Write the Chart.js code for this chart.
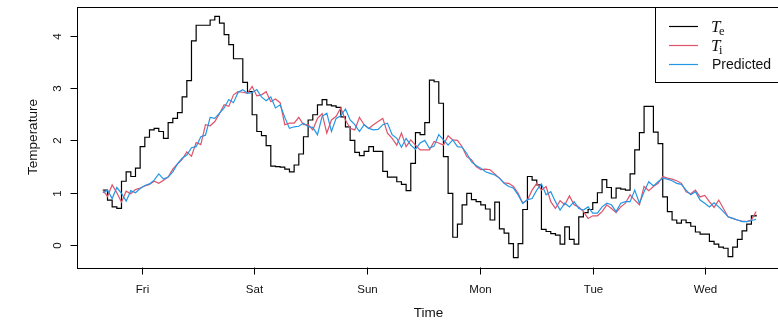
<!DOCTYPE html>
<html>
<head>
<meta charset="utf-8">
<style>
  html, body { margin: 0; padding: 0; background: #ffffff; overflow: hidden; }
  #wrap { width: 790px; height: 323px; }
</style>
<script src="https://cdn.jsdelivr.net/npm/chart.js@4.4.0/dist/chart.umd.min.js"></script>
</head>
<body>
<div id="wrap"><canvas id="chart" width="790" height="323"></canvas></div>
<script>
// Hourly samples, index 0 = Thursday afternoon.
const teValues = [
  1.05, 0.86, 0.73, 0.70, 1.22, 1.40, 1.31, 1.47, 1.88, 2.06,
  2.20, 2.23, 2.17, 2.04, 2.34, 2.42, 2.53, 2.83, 3.14, 3.90,
  4.20, 4.20, 4.20, 4.30, 4.37, 4.24, 4.02, 3.83, 3.56, 3.56,
  3.11, 2.93, 2.49, 2.17, 2.09, 1.90, 1.51, 1.50, 1.49, 1.45,
  1.40, 1.53, 1.74, 2.07, 2.39, 2.49, 2.68, 2.78, 2.68, 2.66,
  2.63, 2.45, 2.26, 2.00, 1.77, 1.71, 1.79, 1.88, 1.79, 1.79,
  1.41, 1.30, 1.30, 1.21, 1.16, 1.04, 1.56, 2.15, 2.11, 2.34,
  3.15, 3.12, 2.71, 1.69, 0.99, 0.15, 0.40, 0.77, 0.99, 0.87,
  0.83, 0.77, 0.69, 0.48, 0.82, 0.31, 0.23, 0.03, -0.24, 0.03,
  0.68, 1.31, 1.24, 1.15, 0.30, 0.26, 0.22, 0.19, 0.02, 0.35,
  0.11, 0.02, 0.54, 0.62, 0.68, 0.81, 1.00, 1.25, 1.10, 0.90,
  1.09, 1.07, 1.05, 1.36, 1.82, 2.15, 2.65, 2.65, 2.16, 1.94,
  0.92, 0.64, 0.48, 0.42, 0.48, 0.43, 0.36, 0.25, 0.21, 0.21,
  0.07, 0.02, -0.04, -0.06, -0.22, -0.04, 0.11, 0.27, 0.40, 0.56,
  0.58
];
const tiValues = [
  1.05, 0.93, 1.15, 1.00, 0.82, 1.03, 0.98, 1.06, 1.09, 1.13,
  1.16, 1.22, 1.18, 1.24, 1.30, 1.45, 1.55, 1.64, 1.78, 1.70,
  1.96, 1.92, 2.30, 2.28, 2.36, 2.51, 2.68, 2.65, 2.87, 2.93,
  2.92, 2.90, 3.03, 2.85, 2.87, 2.93, 2.74, 2.79, 2.72, 2.30,
  2.33, 2.33, 2.44, 2.30, 2.30, 2.20, 2.42, 2.51, 2.14, 2.39,
  2.46, 2.62, 2.39, 2.23, 2.20, 2.44, 2.30, 2.23, 2.30, 2.36,
  2.42, 2.14, 2.04, 1.91, 2.14, 1.88, 2.01, 1.91, 1.82, 1.82,
  1.82, 1.98, 1.95, 1.91, 2.09, 2.01, 2.00, 1.88, 1.69, 1.63,
  1.50, 1.44, 1.45, 1.44, 1.36, 1.28, 1.19, 1.18, 1.12, 0.99,
  0.80, 0.86, 1.05, 1.18, 1.05, 1.12, 0.83, 0.70, 0.85, 0.77,
  0.94, 0.77, 0.73, 0.64, 0.51, 0.56, 0.56, 0.64, 0.77, 0.70,
  0.62, 0.73, 0.80, 0.96, 0.86, 0.77, 1.12, 1.04, 1.12, 1.18,
  1.31, 1.28, 1.26, 1.23, 1.18, 1.02, 0.98, 1.05, 0.92, 0.95,
  0.83, 0.72, 0.86, 0.70, 0.54, 0.51, 0.48, 0.46, 0.45, 0.48,
  0.64
];
const predValues = [
  1.00, 1.05, 0.89, 1.10, 0.99, 0.84, 1.04, 1.00, 1.08, 1.14,
  1.17, 1.24, 1.36, 1.26, 1.30, 1.40, 1.55, 1.66, 1.72, 1.86,
  1.88, 2.07, 2.10, 2.44, 2.42, 2.52, 2.62, 2.78, 2.72, 2.92,
  2.97, 2.90, 2.91, 2.97, 2.83, 2.76, 2.83, 2.62, 2.68, 2.44,
  2.23, 2.26, 2.27, 2.33, 2.26, 2.25, 2.11, 2.46, 2.52, 2.17,
  2.42, 2.47, 2.60, 2.39, 2.30, 2.17, 2.30, 2.23, 2.20, 2.21,
  2.30, 2.33, 2.11, 2.04, 1.87, 2.04, 1.91, 1.83, 1.95, 2.00,
  1.85, 1.89, 2.11, 2.01, 1.91, 2.01, 1.88, 1.87, 1.75, 1.59,
  1.52, 1.47, 1.40, 1.37, 1.34, 1.28, 1.18, 1.12, 1.09, 0.96,
  0.80, 0.87, 0.89, 1.05, 1.17, 0.96, 1.02, 0.83, 0.67, 0.80,
  0.73, 0.83, 0.70, 0.67, 0.73, 0.61, 0.61, 0.73, 0.80, 0.77,
  0.64, 0.80, 0.83, 0.83, 1.05, 0.80, 1.02, 1.21, 1.13, 1.21,
  1.28, 1.26, 1.23, 1.18, 1.16, 1.05, 0.96, 1.02, 0.86, 0.80,
  0.73, 0.81, 0.73, 0.64, 0.54, 0.51, 0.48, 0.45, 0.45, 0.47,
  0.49
];

// Midnight of each day, in sample units.
const dayLabels = ['Fri', 'Sat', 'Sun', 'Mon', 'Tue', 'Wed'];
const dayTicks = [8.3, 32.5, 56.7, 80.85, 104.95, 129.15];
const tempTicks = [0, 1, 2, 3, 4];

const seriesNames = ['Te', 'Ti', 'Predicted'];
const seriesColors = ['#000000', '#DF536B', '#2297E6'];

const toPoints = vals => vals.map((v, i) => ({ x: i, y: v }));

// R-style axis frame, ticks, titles and legend.
const frame = {
  id: 'frame',
  afterDraw(chart) {
    const { ctx, chartArea: a, scales: { x, y } } = chart;
    ctx.save();
    ctx.strokeStyle = '#000';
    ctx.lineWidth = 1;
    ctx.strokeRect(Math.round(a.left) + 0.5, Math.round(a.top) + 0.5,
                   Math.round(a.right - a.left), Math.round(a.bottom - a.top));

    const sans = '"Liberation Sans", Arial, sans-serif';
    ctx.fillStyle = '#111';

    // bottom axis
    const bot = Math.round(a.bottom) + 0.5;
    ctx.font = '11.5px ' + sans;
    ctx.textAlign = 'center';
    ctx.textBaseline = 'middle';
    dayTicks.forEach((t, i) => {
      const px = Math.round(x.getPixelForValue(t)) + 0.5;
      ctx.beginPath();
      ctx.moveTo(px, bot);
      ctx.lineTo(px, bot + 7);
      ctx.stroke();
      ctx.fillText(dayLabels[i], px, 289.5);
    });

    // left axis
    const lft = Math.round(a.left) + 0.5;
    tempTicks.forEach(v => {
      const py = Math.round(y.getPixelForValue(v)) + 0.5;
      ctx.beginPath();
      ctx.moveTo(lft, py);
      ctx.lineTo(lft - 7, py);
      ctx.stroke();
      ctx.save();
      ctx.translate(57.5, py);
      ctx.rotate(-Math.PI / 2);
      ctx.fillText(String(v), 0, 0);
      ctx.restore();
    });

    // axis titles
    ctx.font = '13.5px ' + sans;
    ctx.fillText('Time', (a.left + a.right) / 2 - 1, 313);
    ctx.save();
    ctx.translate(33, (a.top + a.bottom) / 2);
    ctx.rotate(-Math.PI / 2);
    ctx.fillText('Temperature', 0, 0);
    ctx.restore();

    // legend
    const lx = 655.5, ly = Math.round(a.top) + 0.5, lb = 82.5;
    ctx.fillStyle = '#fff';
    ctx.fillRect(lx, ly, a.right - lx, lb - ly);
    ctx.strokeRect(lx, ly, Math.round(a.right) - lx, lb - ly);
    const rows = [26, 45, 64];
    ctx.lineWidth = 1.2;
    rows.forEach((ry, i) => {
      ctx.strokeStyle = seriesColors[i];
      ctx.beginPath();
      ctx.moveTo(669, ry + 0.5);
      ctx.lineTo(698, ry + 0.5);
      ctx.stroke();
    });
    ctx.fillStyle = '#111';
    ctx.textAlign = 'left';
    ctx.textBaseline = 'alphabetic';
    const serif = '"Liberation Serif", "DejaVu Serif", serif';
    [['e', rows[0]], ['i', rows[1]]].forEach(([sub, ry]) => {
      ctx.font = 'italic 17px ' + serif;
      ctx.fillText('T', 711, ry + 6);
      const w = ctx.measureText('T').width;
      ctx.font = '12.5px ' + serif;
      ctx.fillText(sub, 711 + w - 1.5, ry + 8.5);
    });
    ctx.font = '14px ' + sans;
    ctx.fillText('Predicted', 712, rows[2] + 5.3);
    ctx.restore();
  }
};

new Chart(document.getElementById('chart'), {
  type: 'line',
  data: {
    datasets: [
      { label: seriesNames[0], data: toPoints(teValues), borderColor: seriesColors[0],
        borderWidth: 1.2, stepped: 'before', order: 3 },
      { label: seriesNames[1], data: toPoints(tiValues), borderColor: seriesColors[1],
        borderWidth: 1.2, order: 2 },
      { label: seriesNames[2], data: toPoints(predValues), borderColor: seriesColors[2],
        borderWidth: 1.2, order: 1 }
    ]
  },
  options: {
    responsive: false,
    animation: false,
    events: [],
    layout: { padding: { left: 76.7, right: 7.8, top: 6.7, bottom: 55.7 } },
    elements: { point: { radius: 0 }, line: { tension: 0, fill: false } },
    scales: {
      x: { type: 'linear', min: -5.6, max: 145.6, display: false },
      y: { type: 'linear', min: -0.424, max: 4.554, display: false }
    },
    plugins: { legend: { display: false }, tooltip: { enabled: false } }
  },
  plugins: [frame]
});
</script>
</body>
</html>
